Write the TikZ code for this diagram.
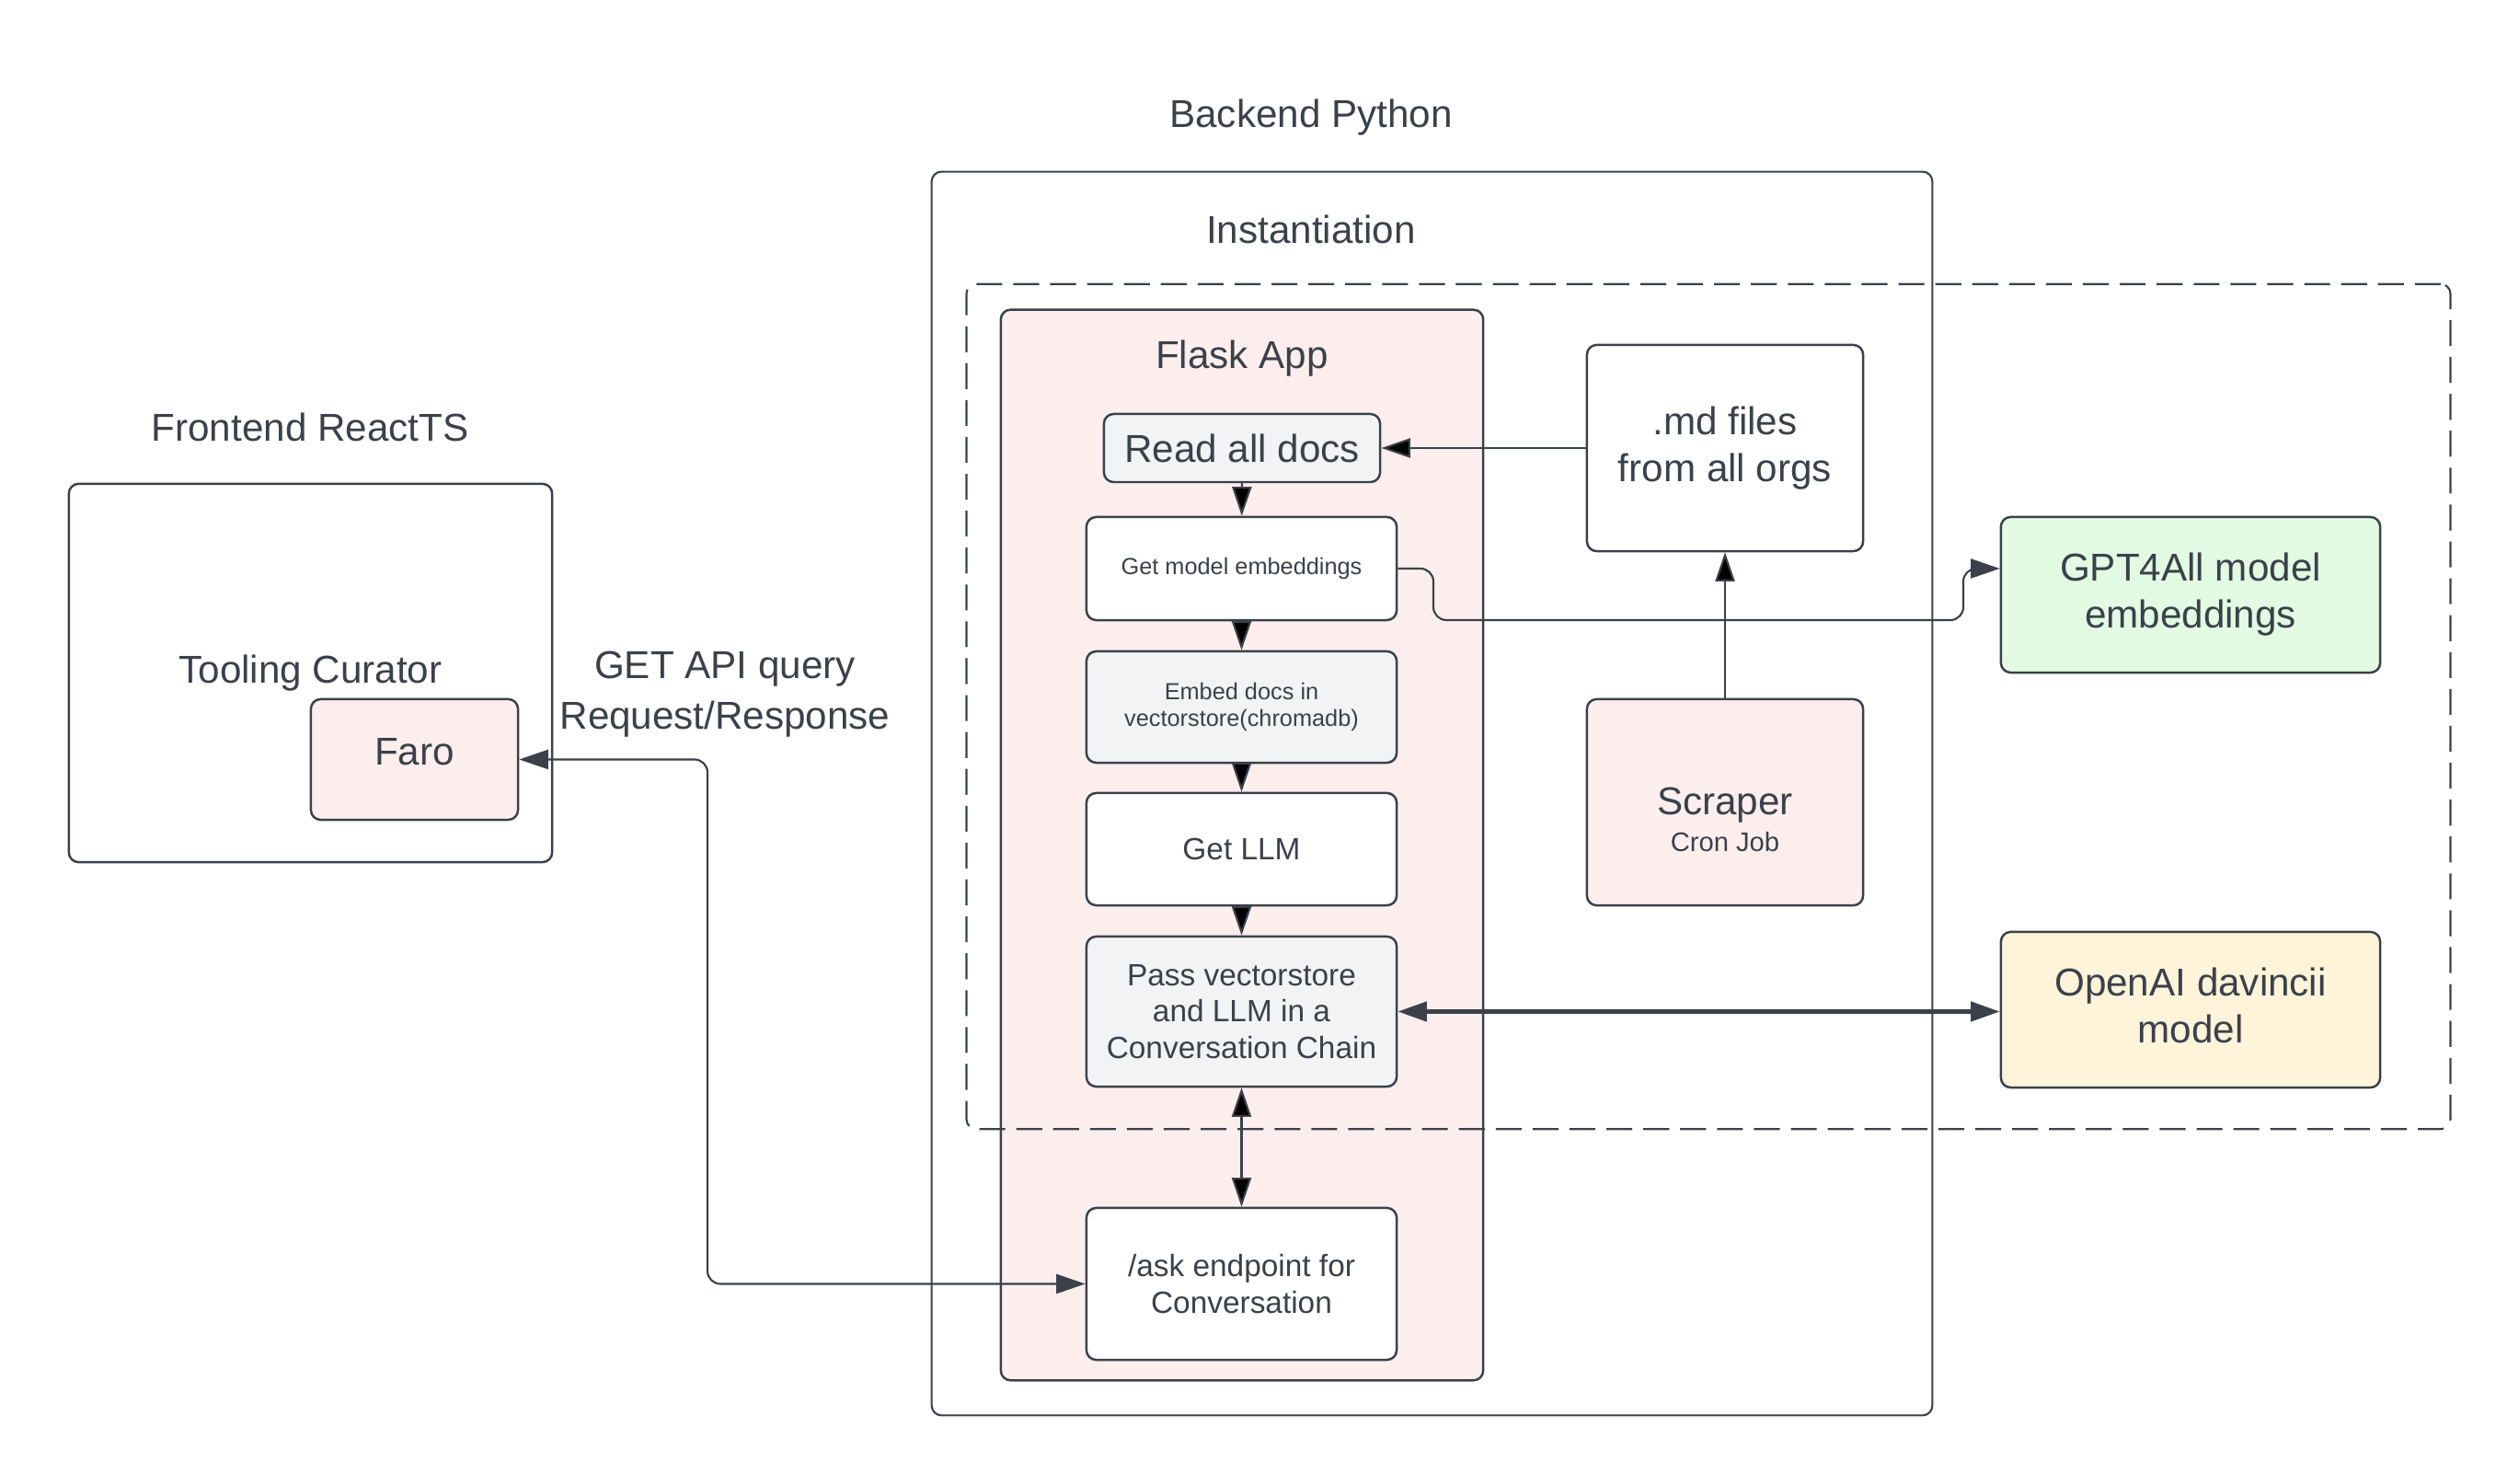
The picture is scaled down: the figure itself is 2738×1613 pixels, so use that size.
\documentclass[tikz,border=0pt]{standalone}
\usepackage{fontspec}
\setmainfont{Liberation Sans}
\usepackage{tikz}
\usetikzlibrary{arrows.meta}

\definecolor{ink}{RGB}{58,65,74}
\definecolor{blush}{RGB}{253,238,238}
\definecolor{mist}{RGB}{242,243,245}
\definecolor{mint}{RGB}{226,249,226}
\definecolor{cream}{RGB}{255,243,217}

\begin{document}
\begin{tikzpicture}[x=0.01cm, y=-0.01cm, text=ink,
	font=\fontsize{12}{14.5}\selectfont,
	box/.style={shape=rectangle, draw=ink, line width=0.7pt, rounded corners=3pt, inner sep=0pt, align=center},
	smalltxt/.style={font=\fontsize{9.5}{11.3}\selectfont},
	tinytxt/.style={font=\fontsize{7.2}{8.5}\selectfont},
	hd/.tip={Triangle[length=9pt,width=6pt]},
	link/.style={draw=ink, line width=0.6pt, -hd},
	twoway/.style={draw=ink, line width=0.6pt, hd-hd}]
				\useasboundingbox (0,0) rectangle (2738,1613);
				% containers
				\node[box, fill=blush, minimum width=5.24cm, minimum height=11.63cm] (flask) at (1350,918.5) {};
				\node[box, line width=0.6pt, minimum width=10.87cm, minimum height=13.51cm] (backend) at (1556.5,862.5) {};
				\node[box, line width=0.6pt, dash pattern=on 8pt off 3.4pt, minimum width=16.12cm, minimum height=9.18cm] (inst) at (1857,768) {};
				\node[box, minimum width=5.25cm, minimum height=4.11cm] (front) at (337.5,731.5) {Tooling Curator};
				\node[box, fill=blush, minimum width=2.25cm, minimum height=1.31cm] (faro) at (450.5,825.5) {Faro\rule[-5pt]{0pt}{1pt}};
				% titles
				\node (frontT) at (337,464) {Frontend ReactTS};
				\node (backT) at (1425,128) {Backend Python};
				\node (instT) at (1425,249) {Instantiation};
				\node (flaskT) at (1350,390) {Flask App};
				\node[align=center, font=\fontsize{12}{15.6}\selectfont] (api) at (788,755) {GET API query\\Request/Response};
				% flask steps
				\node[box, fill=mist, minimum width=3.0cm, minimum height=0.74cm] (read) at (1350,487) {Read all docs};
				\node[box, fill=white, tinytxt, minimum width=3.37cm, minimum height=1.12cm] (embmodel) at (1349.5,618) {Get model embeddings};
				\node[box, fill=mist, tinytxt, minimum width=3.37cm, minimum height=1.21cm] (embed) at (1349.5,768.5) {Embed docs in\\vectorstore(chromadb)};
				\node[box, fill=white, smalltxt, minimum width=3.37cm, minimum height=1.22cm] (llm) at (1349.5,923) {Get LLM};
				\node[box, fill=mist, smalltxt, minimum width=3.37cm, minimum height=1.63cm] (chain) at (1349.5,1099.5) {Pass vectorstore\\and LLM in a\\Conversation Chain};
				\node[box, fill=white, smalltxt, minimum width=3.37cm, minimum height=1.65cm] (ask) at (1349.5,1395.5) {/ask endpoint for\\Conversation};
				% side boxes
				\node[box, fill=white, minimum width=3.0cm, minimum height=2.24cm] (md) at (1875,487) {.md files\\from all orgs};
				\node[box, fill=blush, minimum width=3.0cm, minimum height=2.24cm] (scraper) at (1875,872) {\rule{0pt}{19pt}Scraper\\[-3pt]{\fontsize{8.3}{10}\selectfont Cron Job}};
				\node[box, fill=mint, minimum width=4.12cm, minimum height=1.69cm] (gpt) at (2381,646.5) {GPT4All model\\embeddings};
				\node[box, fill=cream, minimum width=4.12cm, minimum height=1.69cm] (openai) at (2381,1097.5) {OpenAI davincii\\model\rule[-3pt]{0pt}{1pt}};
				% bends
				\coordinate (jogA) at (1558,674);
				\coordinate (jogB) at (2134,674);
				\coordinate (bend) at (769,1100);
				% connectors
				\path[link] (md) edge (read);
				\path[link] (read) edge (embmodel);
				\path[link] (embmodel) edge (embed);
				\path[link] (embed) edge (llm);
				\path[link] (llm) edge (chain);
				\path[link] (scraper) edge (md);
				\path[twoway] (chain) edge (ask);
				\draw[twoway, line width=1.2pt] (chain.east) -- (chain.east -| openai.west);
				\draw[link, rounded corners=4pt] (embmodel.east) -- (embmodel.east -| jogA) -- (jogA) -- (jogB) -- (jogB |- embmodel.east) -- (gpt.west |- embmodel.east);
				\draw[twoway, rounded corners=4pt] (faro.east) -- (faro.east -| bend) -- (bend |- ask.west) -- (ask.west);
			\end{tikzpicture}
\end{document}
